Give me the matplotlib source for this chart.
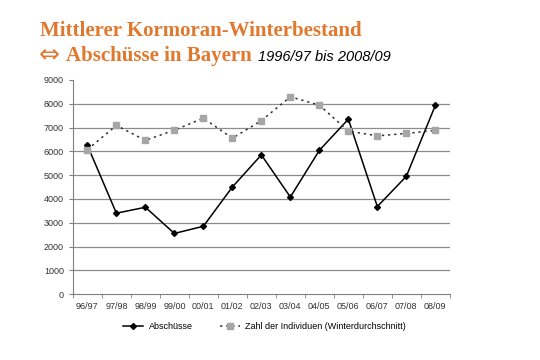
import matplotlib.pyplot as plt
import numpy as np

seasons = ["96/97", "97/98", "98/99", "99/00", "00/01", "01/02", "02/03",
           "03/04", "04/05", "05/06", "06/07", "07/08", "08/09"]
abschuesse = [6250, 3400, 3650, 2550, 2850, 4500, 5850, 4080, 6040, 7350, 3680, 4950, 7930]
individuen = [6070, 7090, 6460, 6890, 7390, 6550, 7290, 8290, 7940, 6850, 6650, 6750, 6880]

plt.rcParams['font.family'] = ['Liberation Sans', 'DejaVu Sans']

fig = plt.figure(figsize=(5.4, 3.6), dpi=100)
ax = fig.add_axes([0.135, 0.183, 0.698, 0.595])

x = np.arange(len(seasons))
ax.plot(x, abschuesse, color='black', lw=1.1, marker='D', ms=3,
        label='Abschüsse')
ax.plot(x, individuen, color='#303030', lw=1.1, ls=(0, (1.5, 2.5)),
        marker='s', ms=4.5, mfc='#a6a6a6', mec='#a6a6a6',
        label='Zahl der Individuen (Winterdurchschnitt)')

ax.set_xlim(-0.5, len(seasons) - 0.5)
ax.set_ylim(0, 9000)
ax.set_yticks(range(0, 9001, 1000))
for v in range(1000, 9000, 1000):
    ax.axhline(v, color='#8c8c8c', lw=0.9, zorder=0)
ax.set_xticks(x)
ax.set_xticklabels(seasons)
ax.set_xticks(np.arange(-0.5, len(seasons), 1), minor=True)
ax.tick_params(axis='x', which='major', length=0, labelsize=6.5, pad=6,
               labelcolor='#333333')
ax.tick_params(axis='x', which='minor', length=3, color='#808080')
ax.tick_params(axis='y', length=3, color='#808080', labelsize=6.5,
               labelcolor='#333333')
for s in ['top', 'right']:
    ax.spines[s].set_visible(False)
for s in ['left', 'bottom']:
    ax.spines[s].set_color('#808080')

orange = '#e0782e'
serif = ['Liberation Serif', 'DejaVu Serif']
fig.text(0.074, 0.9, 'Mittlerer Kormoran-Winterbestand', color=orange,
         fontsize=15, fontweight='bold', family=serif, va='baseline')
fig.text(0.072, 0.83, '⇔', color=orange, fontsize=18,
         family=['DejaVu Sans'], va='baseline')
fig.text(0.122, 0.83, 'Abschüsse in Bayern', color=orange,
         fontsize=15, fontweight='bold', family=serif, va='baseline')
fig.text(0.478, 0.83, '1996/97 bis 2008/09', color='black', fontsize=10.5,
         style='italic', va='baseline')

fig.legend(loc='center', bbox_to_anchor=(0.49, 0.092), ncol=2, frameon=False,
           fontsize=6.5, handlelength=2.2, handletextpad=0.6, columnspacing=3)

fig.savefig('out.png', dpi=100)
